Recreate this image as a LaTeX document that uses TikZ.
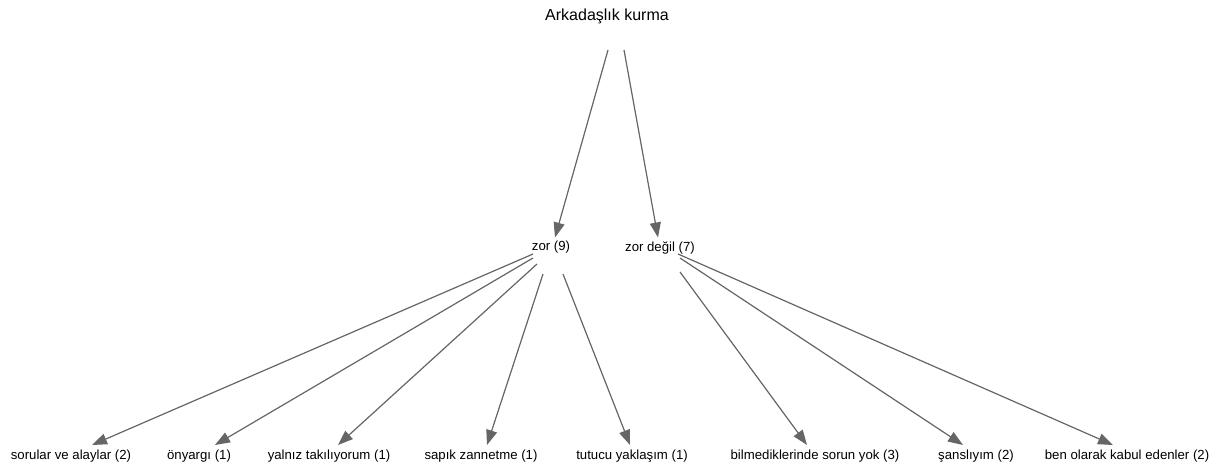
\documentclass[tikz,border=0pt]{standalone}
\usepackage{fontspec}
\setmainfont{Liberation Sans}
\usetikzlibrary{arrows.meta,calc}
\definecolor{edgegray}{RGB}{102,102,102}
\tikzset{
  lbl/.style={inner sep=0pt, anchor=center, font=\fontsize{13.2}{15}\selectfont, text=black},
  ttl/.style={inner sep=0pt, anchor=center, font=\fontsize{16}{18}\selectfont, text=black},
  arr/.style={draw=edgegray, line width=1.2pt, -{Triangle[length=15pt,width=11pt]}, fill=edgegray}
}
\begin{document}
\begin{tikzpicture}[x=1pt,y=-1pt]
\useasboundingbox (0,0) rectangle (1228,463);
\node[ttl] (root) at (607,16) {Arkadaşlık kurma};
\node[lbl] (zor) at (551,247.5) {zor (9)};
\node[lbl] (zd) at (660,247.5) {zor değil (7)};
\node[lbl] (l1) at (71,456) {sorular ve alaylar (2)};
\node[lbl] (l2) at (199,456) {önyargı (1)};
\node[lbl] (l3) at (329,456) {yalnız takılıyorum (1)};
\node[lbl] (l4) at (481,456) {sapık zannetme (1)};
\node[lbl] (l5) at (632,456) {tutucu yaklaşım (1)};
\node[lbl] (l6) at (815,456) {bilmediklerinde sorun yok (3)};
\node[lbl] (l7) at (976,456) {şanslıyım (2)};
\node[lbl] (l8) at (1127,456) {ben olarak kabul edenler (2)};
\draw[arr] ($(root)+(1,34)$) -- ($(zor)+(4,-10)$);
\draw[arr] ($(root)+(17,34)$) -- ($(zd)+(-2,-10)$);
\draw[arr] ($(zor)+(-18,6.5)$) -- ($(l1)+(21,-11)$);
\draw[arr] ($(zor)+(-18,10.5)$) -- ($(l2)+(16,-11)$);
\draw[arr] ($(zor)+(-14,16.5)$) -- ($(l3)+(9,-11)$);
\draw[arr] ($(zor)+(-8,26.5)$) -- ($(l4)+(6,-11)$);
\draw[arr] ($(zor)+(12,26.5)$) -- ($(l5)+(-2,-11)$);
\draw[arr] ($(zd)+(20,24.5)$) -- ($(l6)+(-8,-11)$);
\draw[arr] ($(zd)+(20,10.5)$) -- ($(l7)+(-13,-11)$);
\draw[arr] ($(zd)+(18,6.5)$) -- ($(l8)+(-14,-11)$);
\end{tikzpicture}
\end{document}
